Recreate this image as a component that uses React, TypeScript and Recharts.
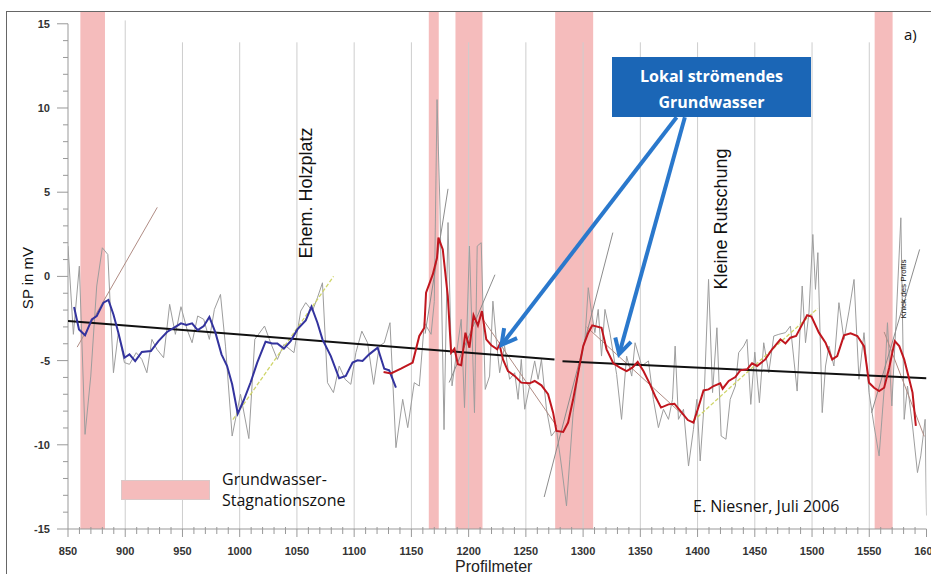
import React from 'react'
import { LineChart, Line, XAxis, YAxis, ReferenceArea, ReferenceLine } from 'recharts'

type Pt = [number, number]

// raw SP readings [Profilmeter, mV]
const rawSP: Pt[] = [
  [850, 1.8], [854.7, -3.44], [859.9, 0.61], [864.9, -9.38], [869.9, -5.92], [875.1, -0.57],
  [880, 1.7], [884.8, 1.3], [889.7, -5.72], [894, -3.34], [899.3, -5.12], [903.7, -5.22],
  [909.6, -4.53], [914.5, -4.93], [918.9, -5.72], [923.3, -3.74], [927.7, -4.33], [933.5, -4.83],
  [938.8, -1.66], [943.8, -3.44], [948.7, -1.8], [954, -3.15], [958.4, -3.94], [963.3, -2.35],
  [968.6, -2.55], [973.5, -3.74], [977.9, -1.96], [983.2, -1.07], [987.6, -4.14], [993.4, -9.48],
  [1000.7, -7.0], [1008, -9.63], [1013.2, -3.74], [1021.7, -2.95], [1027, -3.94], [1032.9, -4.93],
  [1038.6, -4.04], [1047.4, -4.53], [1053.3, -2.06], [1057.7, -1.56], [1063.5, -2.06], [1067.9, -1.27],
  [1072.3, -0.38], [1076.7, -6.31], [1081.9, -6.9], [1086.9, -5.32], [1092.1, -6.11], [1097.1, -6.41],
  [1101.5, -4.53], [1106.7, -3.25], [1111.7, -3.94], [1117, -6.41], [1121.9, -4.14], [1126.3, -3.94],
  [1131.3, -2.75], [1136.5, -10.17], [1142.4, -7.3], [1146.8, -8.98], [1152.5, -6.31], [1156.9, -6.51],
  [1161.3, -2.75], [1167.2, -3.44], [1170, -1.5], [1172.4, 10.5], [1175, 4.0], [1178.5, -9.1],
  [1182, 3.2], [1185.5, -6.5], [1189.1, -4.73], [1193.5, -2.55], [1196.4, -7.79], [1200.7, 1.8],
  [1205.1, -8.09], [1207.5, 1.8], [1211, 2.0], [1214.5, -6.71], [1218.3, -5.92], [1221.2, -1.47],
  [1224.1, -3.74], [1227.1, -5.72], [1231.4, -4.14], [1235.8, -6.11], [1240.2, -5.72], [1243.2, -7.3],
  [1246, -4.93], [1249, -7.89], [1253.3, -6.51], [1257.7, -5.02], [1260.7, -6.11], [1263.6, -4.93],
  [1268, -7.89], [1272.3, -9.48], [1276.7, -9.08], [1281.1, -11.26], [1285.5, -13.63], [1288.4, -10.86],
  [1291.3, -8.09], [1295.7, -5.72], [1301.6, -3.74], [1304.5, -0.67], [1307.4, -2.16], [1310.3, -3.34],
  [1313.2, -1.96], [1316.1, -4.73], [1319.1, -1.96], [1323.4, -3.34], [1329.3, -5.82], [1333.6, -8.49],
  [1338, -4.73], [1342.5, -5.92], [1345.4, -3.94], [1351.2, -5.32], [1357.1, -5.02], [1361.4, -7.3],
  [1365.8, -8.98], [1370.2, -7.89], [1374.6, -8.49], [1378.1, -7.3], [1380.4, -4.14], [1383.3, -8.49],
  [1387.7, -7.89], [1392.1, -11.26], [1396.4, -9.08], [1399.4, -7.3], [1402.3, -10.96], [1405.2, -8.09],
  [1409.6, -0.18], [1413.1, -6.9], [1416.9, -3.05], [1420.6, -9.48], [1424.8, -9.67], [1428.5, -7.3],
  [1433, -6.51], [1435.9, -4.53], [1440.3, -4.14], [1443.2, -3.74], [1446.5, -7.6], [1450, -4.5],
  [1454, -7.5], [1457.8, -3.94], [1462.2, -5.72], [1466.6, -3.54], [1471, -3.44], [1476.8, -3.34],
  [1481.1, -2.95], [1487, -6.81], [1491.4, -0.57], [1494.3, -3.94], [1497.3, -2.16], [1500.7, 2.49],
  [1503, -0.77], [1505.1, 1.41], [1508.9, -8.09], [1511.8, -5.32], [1514.8, -4.14], [1519.1, -5.32],
  [1523.5, -1.56], [1527.9, -3.74], [1532.3, -2.06], [1536.7, -0.18], [1541, -6.11], [1545.4, -3.34],
  [1549.8, -6.9], [1554.2, -8.88], [1558.6, -10.66], [1563, -6.71], [1565.9, -2.75], [1569.7, -7.69],
  [1573.2, -2.95], [1577.6, 3.48], [1580.5, -8.49], [1583.4, -6.51], [1587.8, -8.88], [1592.1, -11.65],
  [1595, -10.66], [1598.8, -8.49], [1600, -14.2],
]

// smoothed curve, western part (blue)
const smoothWest: Pt[] = [
  [855.3, -1.82], [859.6, -3.15], [864.9, -3.5], [870.8, -2.55], [875.1, -2.35], [881, -1.56],
  [885.3, -1.4], [889.7, -2.26], [894, -3.34], [899.3, -4.83], [903.7, -4.63], [908.7, -5.03],
  [914.5, -4.49], [922.4, -4.43], [929, -3.84], [936.5, -3.3], [943.8, -3.0], [948.7, -2.79],
  [953.4, -2.89], [958.4, -2.79], [963.3, -3.19], [968.6, -2.95], [973.5, -2.41], [978.8, -3.34],
  [984.1, -4.63], [989, -5.32], [993.4, -6.41], [998.3, -8.15], [1003.6, -7.34], [1009.5, -6.3],
  [1015.3, -5.12], [1022.6, -3.88], [1028.5, -3.98], [1032.9, -3.98], [1038.6, -4.29], [1044.5, -3.84],
  [1050.4, -3.15], [1057.7, -2.61], [1062.7, -1.8], [1067.9, -2.75], [1072.3, -3.74], [1079.6, -4.73],
  [1086.9, -6.05], [1092.7, -5.91], [1098.6, -5.12], [1103, -4.98], [1107.3, -5.02], [1113.1, -4.63],
  [1120.5, -4.23], [1126.3, -5.48], [1130.6, -5.58], [1136.5, -6.61],
]

// smoothed curve, eastern part (red)
const smoothEast: Pt[] = [
  [1125.7, -5.68], [1132.1, -5.76], [1140.9, -5.48], [1151.1, -5.12], [1156.9, -3.54], [1161.3, -3.05],
  [1162.8, -0.97], [1168.7, 0.12], [1172.4, 1.11], [1173.6, 2.3], [1177.4, 1.6], [1181.8, -1.17],
  [1184.7, -4.53], [1187.6, -4.29], [1190.6, -5.22], [1193.5, -5.28], [1197.2, -3.34], [1200.7, -4.23],
  [1204.3, -2.31], [1208.1, -2.91], [1211.6, -2.06], [1215.4, -3.74], [1219.8, -4.09], [1225, -4.33],
  [1227, -4.04], [1230, -4.93], [1234.4, -5.62], [1240.2, -5.91], [1246, -6.31], [1253.3, -6.35],
  [1257.7, -6.21], [1263.6, -6.47], [1269.4, -7.0], [1273.8, -8.09], [1276.7, -9.18], [1282.6, -9.24],
  [1286.9, -8.68], [1291.3, -7.3], [1295.7, -5.72], [1300.1, -4.14], [1304.5, -3.34], [1308, -2.91],
  [1316.1, -3.05], [1320.5, -4.33], [1326.4, -5.16], [1332.2, -5.42], [1338, -5.62], [1343, -5.42],
  [1347.7, -5.08], [1352.7, -5.62], [1358.5, -6.41], [1362.9, -7.1], [1368.1, -7.79], [1374.6, -7.6],
  [1379.8, -7.56], [1386.2, -8.09], [1391.5, -8.53], [1396.4, -8.68], [1400.2, -7.89], [1405.2, -6.77],
  [1409.6, -6.71], [1414, -6.51], [1419.8, -6.35], [1421.9, -6.67], [1427.2, -6.21], [1433, -5.98],
  [1437.3, -5.58], [1443.2, -5.52], [1447.6, -5.16], [1452, -5.32], [1459.2, -4.93], [1465.1, -4.33],
  [1472.4, -3.74], [1476.8, -3.98], [1481.1, -3.64], [1486.1, -3.54], [1491.4, -2.85], [1495.7, -2.31],
  [1499.5, -2.39], [1506, -3.34], [1511.8, -3.94], [1517.6, -4.93], [1522, -4.73], [1527.9, -3.5],
  [1533.7, -3.38], [1539.6, -3.54], [1545.4, -4.14], [1549.8, -6.31], [1554.2, -6.61], [1558.6, -6.81],
  [1563, -6.61], [1567.4, -5.42], [1572.3, -3.84], [1576.2, -4.14], [1580.5, -4.93], [1584.9, -6.11],
  [1587.8, -6.9], [1590.7, -8.88],
]

// regional trend, two pieces (black)
const trendWest: Pt[] = [[850, -2.65], [1275, -4.93]]
const trendEast: Pt[] = [[1282, -5.04], [1600, -6.05]]

// tangent lines
const tangentsGray: Pt[][] = [
  [[1162, -3.4], [1182, 5.2]],
  [[1183, -6.3], [1223, 0.1]],
  [[1266, -13.1], [1326, 2.6]],
  [[1552, -8.1], [1594, 1.6]],
]
const tangentsBrown: Pt[][] = [
  [[858, -4.2], [928, 4.1]],
  [[1212, -2.5], [1277, -8.9]],
  [[1303, -3.0], [1390, -8.4]],
  [[1563, -3.3], [1598, -9.5]],
]
const tangentsYellow: Pt[][] = [
  [[994, -8.5], [1082, 0]],
  [[1396, -8.6], [1505, -1.9]],
]

// Grundwasser-Stagnationszonen [from, to]
const stagnationZones: Pt[] = [
  [860.8, 882.3], [1165.2, 1173.9], [1188.5, 1212.1], [1275.6, 1308.8], [1554.7, 1570.4],
]

const xTickLabels = [850, 900, 950, 1000, 1050, 1100, 1150, 1200, 1250, 1300, 1350, 1400, 1450, 1500, 1550, 1600]
const yTickLabels = [-15, -10, -5, 0, 5, 10, 15]
const gridX = [900, 950, 1000, 1050, 1100, 1150, 1200, 1250, 1300, 1350, 1400, 1450, 1500, 1550]

// arrows from the label box [[x, y] start, [x, y] tip]
const arrows: Pt[][] = [
  [[1381.7, 9.45], [1228.7, -4.07]],
  [[1388.9, 9.45], [1331.5, -4.61]],
]

const xTicks: number[] = []
for (let v = 850; v <= 1600; v += 10) xTicks.push(v)
const yTicks: number[] = []
for (let v = -15; v <= 15; v += 1) yTicks.push(v)

const rows = (pts: Pt[]) => pts.map(([x, y]) => ({ x, y }))

const ARIAL = '"Liberation Sans", Arial, sans-serif'
const SANS = '"Open Sans", sans-serif'

const XTick = (props: any) => {
  const { x, y, payload } = props
  const v = payload.value
  const major = xTickLabels.includes(v)
  return (
    <g>
      <line x1={x} x2={x} y1={major ? y : y - 2} y2={y + (major ? 8 : 5)} stroke="#999" />
      {major && (
        <text x={x} y={y + 26} textAnchor="middle" fontSize={11} fontWeight="bold" fill="#333" fontFamily={ARIAL}>
          {v}
        </text>
      )}
    </g>
  )
}

const YTick = (props: any) => {
  const { x, y, payload } = props
  const v = payload.value
  const major = yTickLabels.includes(v)
  return (
    <g>
      <line x1={x - (major ? 11 : 5)} x2={x} y1={y} y2={y} stroke="#999" />
      {major && (
        <text x={x - 18} y={y + 4} textAnchor="end" fontSize={11} fontWeight="bold" fill="#333" fontFamily={ARIAL}>
          {v}
        </text>
      )}
    </g>
  )
}

const ArrowShape = (props: any) => {
  const { x1, y1, x2, y2 } = props
  const a = Math.atan2(y2 - y1, x2 - x1)
  const len = 17
  const sp = 0.5
  const p1 = `${x2 - len * Math.cos(a - sp)},${y2 - len * Math.sin(a - sp)}`
  const p2 = `${x2 - len * Math.cos(a + sp)},${y2 - len * Math.sin(a + sp)}`
  return (
    <g>
      <line x1={x1} y1={y1} x2={x2} y2={y2} stroke="#2a78cc" strokeWidth={4} />
      <polyline points={`${p1} ${x2},${y2} ${p2}`} fill="none" stroke="#2a78cc" strokeWidth={4} strokeLinejoin="miter" />
    </g>
  )
}

const rotated = (left: number, top: number, size: number, text: string, font = ARIAL) => (
  <div
    style={{
      position: 'absolute', left, top, transform: 'translate(-50%, -50%) rotate(-90deg)',
      fontFamily: font, fontSize: size, color: '#111', whiteSpace: 'nowrap', lineHeight: 1,
    }}
  >
    {text}
  </div>
)

export default function App() {
  return (
    <div style={{ position: 'absolute', left: 0, top: 0, width: 931, height: 574, overflow: 'hidden', background: '#fff' }}>
      <div style={{ position: 'absolute', left: 6, top: 11, width: 960, height: 600, border: '1.5px solid #666' }} />
      <LineChart width={931} height={574} margin={{ top: 12, right: 4.5, bottom: 0, left: 0 }}>
        <XAxis
          type="number" dataKey="x" domain={[850, 1600]} ticks={xTicks} interval={0} allowDataOverflow
          tick={XTick} tickLine={false} tickSize={0} tickMargin={0} height={45} axisLine={{ stroke: '#999' }}
        />
        <YAxis
          type="number" domain={[-15, 15.7]} ticks={yTicks} interval={0} allowDataOverflow
          tick={YTick} tickLine={false} tickSize={0} tickMargin={0} width={68} axisLine={false}
        />
        {stagnationZones.map(([a, b], i) => (
          <ReferenceArea key={'z' + i} x1={a} x2={b} fill="#f5bcbc" fillOpacity={1} stroke="none" />
        ))}
        {gridX.map((v) => (
          <ReferenceLine key={'g' + v} segment={[{ x: v, y: -15 }, { x: v, y: v === 900 ? 15.2 : 13.9 }]} stroke="#cdcdcd" />
        ))}
        <ReferenceLine segment={[{ x: 850, y: -15 }, { x: 850, y: 15 }]} stroke="#999" />
        <Line data={rows(rawSP)} dataKey="y" stroke="#9d9d9d" strokeWidth={1} dot={false} isAnimationActive={false} />
        {tangentsGray.map((t, i) => (
          <Line key={'tg' + i} data={rows(t)} dataKey="y" stroke="#8c8c8c" strokeWidth={1} dot={false} isAnimationActive={false} />
        ))}
        {tangentsBrown.map((t, i) => (
          <Line key={'tb' + i} data={rows(t)} dataKey="y" stroke="#b08c84" strokeWidth={1} dot={false} isAnimationActive={false} />
        ))}
        {tangentsYellow.map((t, i) => (
          <Line key={'ty' + i} data={rows(t)} dataKey="y" stroke="#cfd56a" strokeWidth={1.3} strokeDasharray="4 2" dot={false} isAnimationActive={false} />
        ))}
        <Line data={rows(trendWest)} dataKey="y" stroke="#111" strokeWidth={2} dot={false} isAnimationActive={false} />
        <Line data={rows(trendEast)} dataKey="y" stroke="#111" strokeWidth={2} dot={false} isAnimationActive={false} />
        <Line data={rows(smoothWest)} dataKey="y" stroke="#33339e" strokeWidth={2} dot={false} isAnimationActive={false} />
        <Line data={rows(smoothEast)} dataKey="y" stroke="#c0161e" strokeWidth={2} dot={false} isAnimationActive={false} />
        {arrows.map(([s, e], i) => (
          <ReferenceLine key={'a' + i} segment={[{ x: s[0], y: s[1] }, { x: e[0], y: e[1] }]} shape={ArrowShape} />
        ))}
      </LineChart>

      {rotated(306, 193, 18, 'Ehem. Holzplatz')}
      {rotated(721, 219, 18, 'Kleine  Rutschung')}
      {rotated(904, 289, 8, 'Knick des Profils')}
      {rotated(27, 278, 15, 'SP in mV')}

      <div style={{ position: 'absolute', left: 455, top: 559, fontFamily: ARIAL, fontSize: 16, color: '#222', whiteSpace: 'nowrap', lineHeight: '15px' }}>
        Profilmeter
      </div>

      <div
        style={{
          position: 'absolute', left: 612, top: 57, width: 199, height: 60, background: '#1b66b6', color: '#fff',
          fontFamily: SANS, fontWeight: 'bold', fontSize: 16, lineHeight: '26px', textAlign: 'center', boxSizing: 'border-box', paddingTop: 6,
        }}
      >
        Lokal strömendes
        <br />
        Grundwasser
      </div>

      <div style={{ position: 'absolute', left: 121, top: 480, width: 89, height: 20, background: '#f5bcbc', border: '1px solid #dcc8c8', boxSizing: 'border-box' }} />
      <div style={{ position: 'absolute', left: 222, top: 469, fontFamily: SANS, fontSize: 16, lineHeight: '21px', color: '#111', whiteSpace: 'nowrap' }}>
        Grundwasser-
        <br />
        Stagnationszone
      </div>

      <div style={{ position: 'absolute', left: 693, top: 496, fontFamily: SANS, fontSize: 16, lineHeight: '21px', color: '#111', whiteSpace: 'nowrap' }}>
        E. Niesner, Juli 2006
      </div>
      <div style={{ position: 'absolute', left: 904, top: 24, fontFamily: SANS, fontSize: 15, lineHeight: '20px', color: '#111' }}>
        a)
      </div>
    </div>
  )
}
